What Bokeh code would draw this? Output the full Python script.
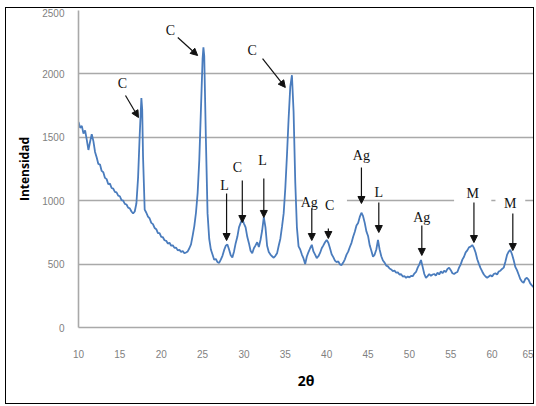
from bokeh.plotting import figure
from bokeh.models import (Range1d, FixedTicker, ColumnDataSource, Arrow, NormalHead)
from bokeh.core.properties import value
from bokeh.embed import file_html
from bokeh.resources import INLINE

# ---------------- data ----------------
two_theta = [
    10.0, 10.2, 10.4, 10.6, 10.8, 11.0, 11.2, 11.4, 11.6, 11.8,
    12.0, 12.2, 12.4, 12.6, 12.8, 13.0, 13.2, 13.4, 13.6, 13.8,
    14.0, 14.2, 14.4, 14.6, 14.8, 15.0, 15.2, 15.4, 15.6, 15.8,
    16.0, 16.2, 16.4, 16.6, 16.8, 17.0, 17.2, 17.4, 17.6, 17.7, 17.8,
    18.0, 18.2, 18.4, 18.6, 18.8, 19.0, 19.2, 19.4, 19.6, 19.8,
    20.0, 20.2, 20.4, 20.6, 20.8, 21.0, 21.2, 21.4, 21.6, 21.8,
    22.0, 22.2, 22.4, 22.6, 22.8, 23.0, 23.2, 23.4, 23.6, 23.8,
    24.0, 24.2, 24.4, 24.6, 24.8, 25.0, 25.1, 25.2, 25.4, 25.6, 25.8,
    26.0, 26.2, 26.4, 26.6, 26.8, 27.0, 27.2, 27.4, 27.6, 27.8,
    28.0, 28.2, 28.4, 28.6, 28.8, 29.0, 29.2, 29.4, 29.6, 29.8,
    30.0, 30.2, 30.4, 30.6, 30.8, 31.0, 31.2, 31.4, 31.6, 31.8,
    32.0, 32.2, 32.4, 32.6, 32.8, 33.0, 33.2, 33.4, 33.6, 33.8,
    34.0, 34.2, 34.4, 34.6, 34.8, 35.0, 35.2, 35.4, 35.6, 35.8,
    36.0, 36.2, 36.4, 36.6, 36.8, 37.0, 37.2, 37.4, 37.6, 37.8,
    38.0, 38.2, 38.4, 38.6, 38.8, 39.0, 39.2, 39.4, 39.6, 39.8,
    40.0, 40.2, 40.4, 40.6, 40.8, 41.0, 41.2, 41.4, 41.6, 41.8,
    42.0, 42.2, 42.4, 42.6, 42.8, 43.0, 43.2, 43.4, 43.6, 43.8,
    44.0, 44.2, 44.4, 44.6, 44.8, 45.0, 45.2, 45.4, 45.6, 45.8,
    46.0, 46.2, 46.4, 46.6, 46.8, 47.0, 47.2, 47.4, 47.6, 47.8,
    48.0, 48.2, 48.4, 48.6, 48.8, 49.0, 49.2, 49.4, 49.6, 49.8,
    50.0, 50.2, 50.4, 50.6, 50.8, 51.0, 51.2, 51.4, 51.6, 51.8,
    52.0, 52.2, 52.4, 52.6, 52.8, 53.0, 53.2, 53.4, 53.6, 53.8,
    54.0, 54.2, 54.4, 54.6, 54.8, 55.0, 55.2, 55.4, 55.6, 55.8,
    56.0, 56.2, 56.4, 56.6, 56.8, 57.0, 57.2, 57.4, 57.6, 57.8,
    58.0, 58.2, 58.4, 58.6, 58.8, 59.0, 59.2, 59.4, 59.6, 59.8,
    60.0, 60.2, 60.4, 60.6, 60.8, 61.0, 61.2, 61.4, 61.6, 61.8,
    62.0, 62.2, 62.4, 62.6, 62.8, 63.0, 63.2, 63.4, 63.6, 63.8,
    64.0, 64.2, 64.4, 64.6, 64.8, 65.0,
]
intensity = [
    1620, 1575, 1590, 1530, 1555, 1480, 1400, 1465, 1525, 1470,
    1385, 1340, 1290, 1285, 1235, 1225, 1180, 1170, 1130, 1135,
    1100, 1095, 1070, 1065, 1040, 1035, 1005, 1000, 975, 970,
    945, 940, 915, 900, 915, 980, 1180, 1520, 1810, 1720, 1350,
    930, 905, 875, 860, 825, 815, 785, 775, 745, 745,
    715, 712, 688, 684, 662, 668, 645, 648, 628, 630,
    608, 612, 596, 604, 585, 592, 600, 625, 655, 725,
    800, 905, 1060, 1320, 1720, 2120, 2210, 2140, 1480, 900, 700,
    615, 575, 535, 540, 515, 510, 535, 565, 610, 645,
    655, 615, 570, 552, 600, 665, 715, 790, 825, 855,
    820, 790, 715, 665, 605, 585, 625, 648, 672, 635,
    690, 765, 870, 790, 645, 595, 575, 562, 550, 565,
    585, 645, 700, 795, 900, 1100, 1360, 1650, 1900, 1990,
    1700, 1150, 790, 640, 615, 575, 545, 500, 560, 595,
    625, 652, 600, 575, 548, 562, 588, 625, 648, 672,
    690, 668, 625, 578, 555, 528, 515, 522, 498, 492,
    512, 538, 575, 598, 635, 668, 715, 755, 805, 825,
    872, 905, 878, 825, 758, 722, 648, 605, 558, 575,
    615, 690, 615, 562, 528, 512, 488, 482, 465, 458,
    445, 448, 432, 435, 418, 420, 402, 405, 392, 402,
    395, 408, 405, 425, 438, 472, 498, 532, 478, 422,
    392, 405, 422, 408, 418, 422, 410, 432, 418, 442,
    428, 448, 438, 462, 472, 452, 428, 422, 432, 438,
    472, 498, 535, 558, 592, 608, 632, 638, 650, 628,
    592, 538, 502, 468, 442, 418, 402, 392, 402, 412,
    402, 422, 428, 418, 442, 448, 462, 472, 518, 572,
    598, 612, 578, 532, 478, 452, 418, 382, 362, 352,
    382, 392, 378, 348, 332, 318,
]

x_ticks = [10, 15, 20, 25, 30, 35, 40, 45, 50, 55, 60, 65]
y_ticks = [0, 500, 1000, 1500, 2000, 2500]

# peak annotations: label, text position, arrow tail, arrow head
ann_label = ["C", "C", "C", "L", "C", "L", "Ag", "C", "Ag", "L", "Ag", "M", "M"]
ann_text_x = [15.3, 21.1, 31.0, 27.65, 29.2, 32.25, 37.9, 40.35, 44.2, 46.3, 51.5, 57.65, 62.2]
ann_text_y = [1924, 2342, 2184, 1120, 1262, 1317, 986, 962, 1356, 1065, 867, 1057, 978]
ann_tail_x = [15.68, 22.0, 32.25, 27.9, 29.8, 32.4, 38.2, 40.2, 44.2, 46.3, 51.5, 57.8, 62.5]
ann_tail_y = [1830, 2287, 2121, 1057, 1159, 1175, 938, 781, 1262, 986, 804, 986, 899]
ann_head_x = [17.25, 24.4, 35.0, 27.9, 29.8, 32.4, 38.2, 40.2, 44.2, 46.3, 51.5, 57.8, 62.5]
ann_head_y = [1656, 2145, 1893, 686, 828, 868, 686, 702, 978, 749, 568, 670, 607]
# white label boxes that interrupt the 1000 gridline (half widths in 2θ)
box_label_idx = [6, 7, 11, 12]
box_half_w = [0.75, 2.1, 2.25, 1.8]

# ---------------- figure ----------------
W, H = 529, 397
p = figure(width=W, height=H, output_backend="svg", toolbar_location=None,
           x_range=Range1d(10, 65), y_range=Range1d(0, 2500),
           min_border_left=72, min_border_right=2, min_border_top=2, min_border_bottom=78)
p.styles = {"border": "1px solid #000000", "margin-left": "5px", "margin-top": "7px"}
p.outline_line_color = None
p.background_fill_color = "white"
p.border_fill_color = "white"

p.xgrid.grid_line_color = None
p.ygrid.grid_line_color = "#a9a9a9"
p.ygrid.grid_line_width = 1.6

p.xaxis.ticker = FixedTicker(ticks=x_ticks)
p.yaxis.ticker = FixedTicker(ticks=y_ticks)
for ax in (p.xaxis[0], p.yaxis[0]):
    ax.axis_line_color = "#a9a9a9"
    ax.axis_line_width = 1.6
    ax.major_tick_line_color = None
    ax.minor_tick_line_color = None
    ax.major_tick_out = 0
    ax.major_tick_in = 0
    ax.minor_tick_out = 0
    ax.major_label_text_color = "#7f7f7f"
    ax.major_label_text_font = "Liberation Sans"
    ax.major_label_text_font_size = "10px"
    ax.axis_label_text_font = "Open Sans"
    ax.axis_label_text_font_style = "bold"
    ax.axis_label_text_color = "#000000"

p.xaxis.major_label_standoff = 22
p.xaxis.axis_label = "2θ"
p.xaxis.axis_label_text_font_size = "14px"
p.xaxis.axis_label_standoff = 10

p.yaxis.major_label_standoff = 14
p.yaxis.axis_label = "Intensidad"
p.yaxis.axis_label_text_font_size = "12px"
p.yaxis.axis_label_standoff = 6

# white boxes behind some labels
bsrc = ColumnDataSource(dict(
    left=[ann_text_x[i] - w for i, w in zip(box_label_idx, box_half_w)],
    right=[ann_text_x[i] + w for i, w in zip(box_label_idx, box_half_w)],
    bottom=[950] * len(box_label_idx),
    top=[1050] * len(box_label_idx),
))
p.quad(left="left", right="right", bottom="bottom", top="top", source=bsrc,
       fill_color="white", line_color=None)

# the diffractogram
p.line(two_theta, intensity, line_color="#4a7cbd", line_width=1.8)

# annotations
asrc = ColumnDataSource(dict(x0=ann_tail_x, y0=ann_tail_y, x1=ann_head_x, y1=ann_head_y))
p.add_layout(Arrow(x_start="x0", y_start="y0", x_end="x1", y_end="y1", source=asrc,
                   line_color="#111111", line_width=1.2,
                   end=NormalHead(size=7, fill_color="#111111", line_color="#111111")))
tsrc = ColumnDataSource(dict(x=ann_text_x, y=ann_text_y, t=ann_label))
p.text(x="x", y="y", text="t", source=tsrc, text_align="center", text_baseline="middle",
       text_font=value("Liberation Serif"), text_font_size="14px", text_color="#111111")

open("out.html", "w").write(file_html(p, INLINE))
